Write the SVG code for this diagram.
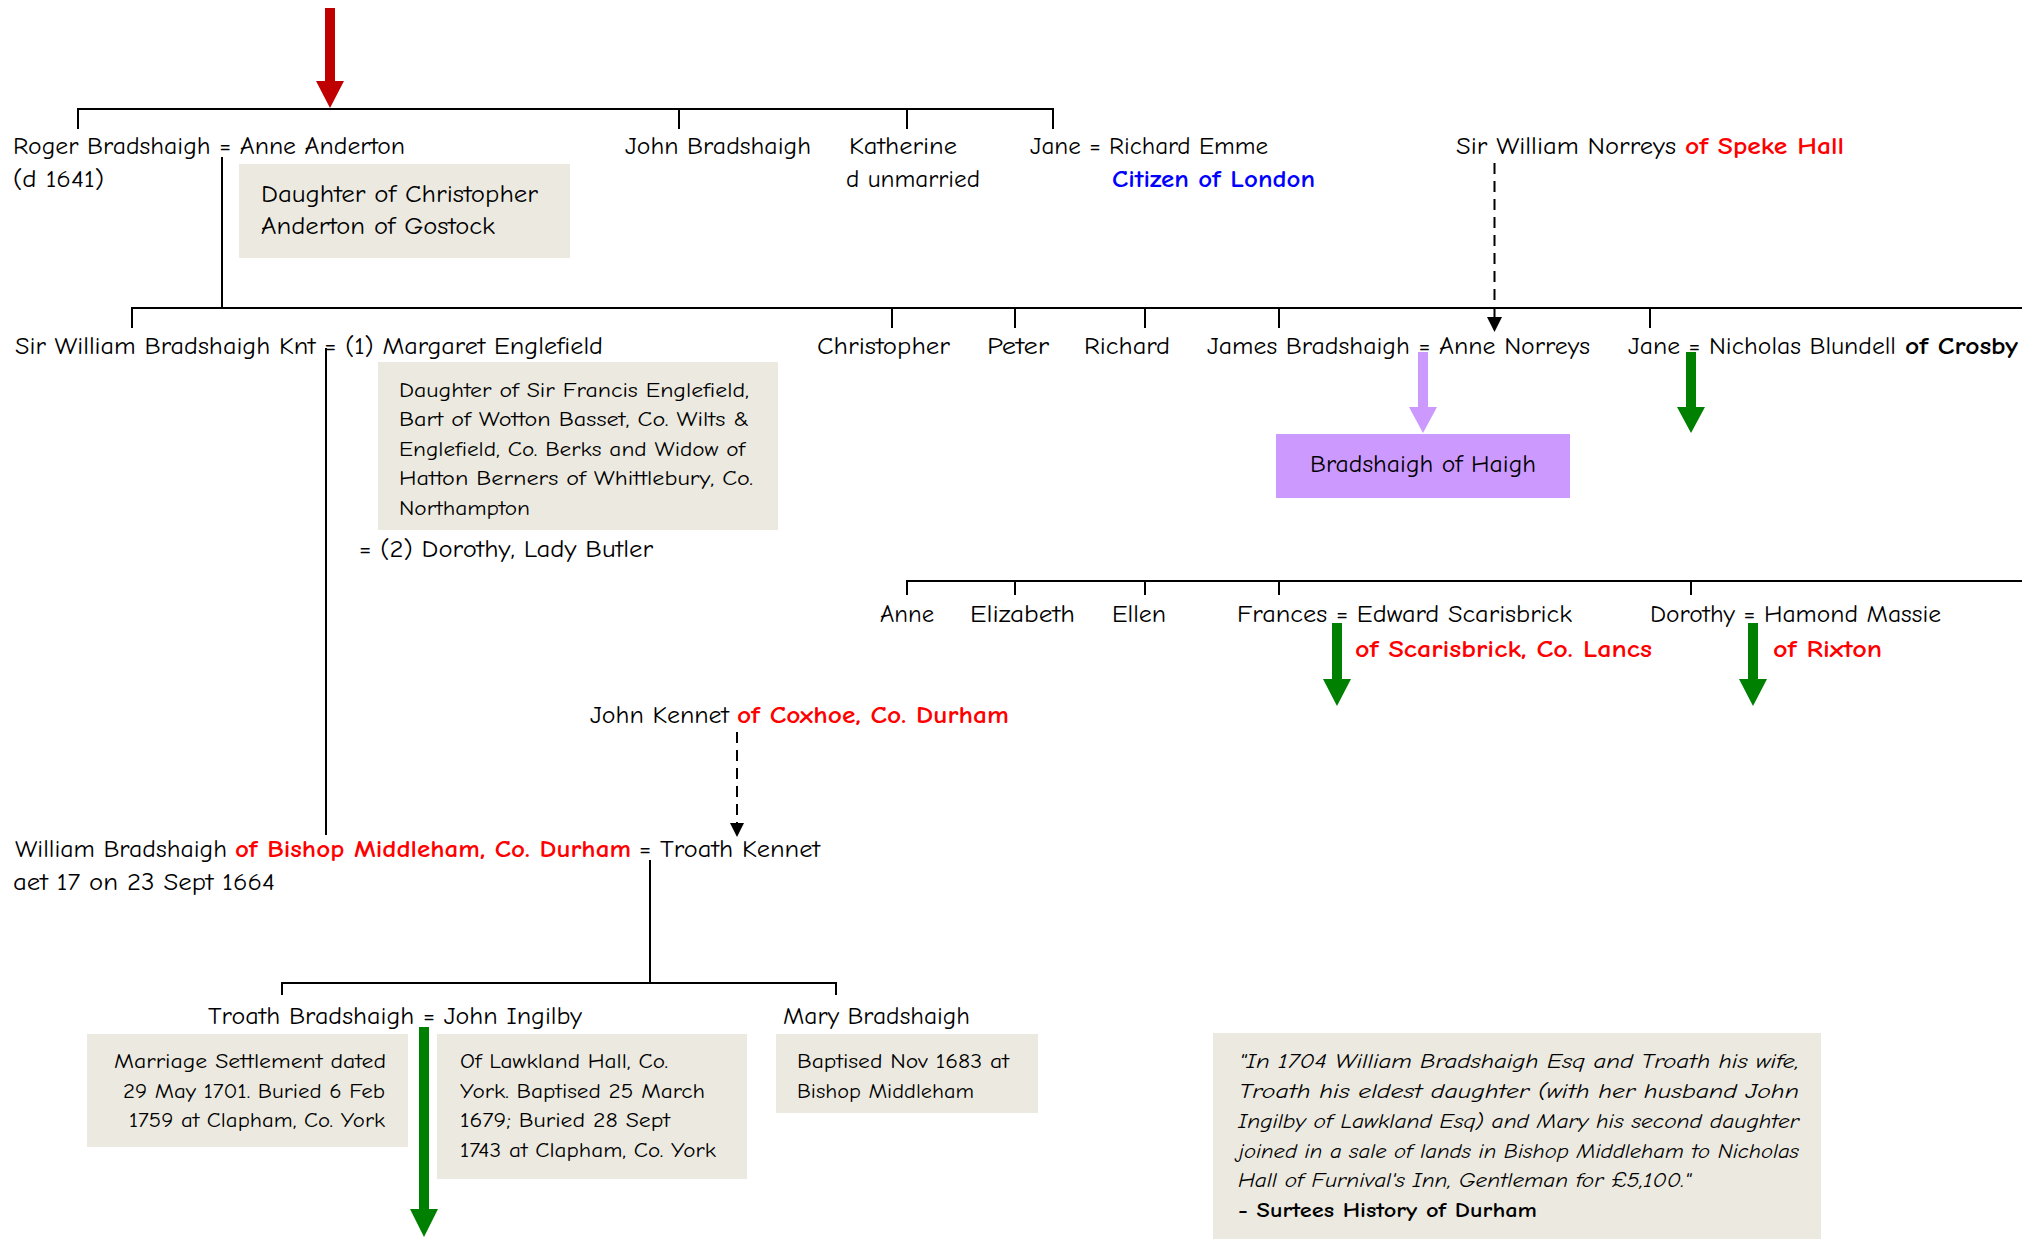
<svg xmlns="http://www.w3.org/2000/svg" width="2022" height="1242" viewBox="0 0 2022 1242">
<defs>
<style>
text{font-family:"Comic Sans MS","Comic Neue","Liberation Sans",sans-serif;font-size:24px;fill:#000}
.s{font-size:20px}
.m{font-size:21px}
.b{font-weight:bold}
.r{fill:#ff0000;font-weight:bold}
.bl{fill:#0000ff;font-weight:bold}
.i{font-style:italic}
.ln{stroke:#000;stroke-width:2;fill:none}
.dash{stroke:#000;stroke-width:2;fill:none;stroke-dasharray:11 7}
.note{fill:#eceae0}
.green{fill:#008000}
.purple{fill:#cc99ff}
</style>
</defs>
<rect width="2022" height="1242" fill="#fff"/>

<g id="connectors">
<!-- red incoming arrow -->
<path d="M325,8 H335 V81 H344 L330,108 L316,81 H325 Z" fill="#c00000"/>
<!-- row 1 sibling line -->
<path class="ln" d="M78,109 H1053 M78,108 V129 M679,109 V129 M907,109 V129 M1053,108 V129"/>
<!-- Roger descent -->
<path class="ln" d="M222,157 V308"/>
<!-- row 2 sibling line -->
<path class="ln" d="M132,308 H2022 M132,307 V328 M892,308 V328 M1015,308 V328 M1145,308 V328 M1279,308 V328 M1650,308 V328"/>
<!-- Norreys dashed -->
<path class="dash" d="M1494.5,163 V318"/>
<path d="M1487,317 H1502 L1494.5,332 Z" fill="#000"/>
<!-- purple arrow -->
<path class="purple" d="M1418,352 H1428 V407 H1437 L1423,433 L1409,407 H1418 Z"/>
<!-- green Jane -->
<path class="green" d="M1686,352 H1696 V407 H1705 L1691,433 L1677,407 H1686 Z"/>
<!-- Sir William descent -->
<path class="ln" d="M326,348 V835"/>
<!-- row 3 sibling line -->
<path class="ln" d="M907,581 H2022 M907,580 V595 M1015,581 V595 M1145,581 V595 M1279,581 V595 M1691,581 V595"/>
<!-- green Frances / Dorothy -->
<path class="green" d="M1332,623 H1342 V679 H1351 L1337,706 L1323,679 H1332 Z"/>
<path class="green" d="M1748,623 H1758 V679 H1767 L1753,706 L1739,679 H1748 Z"/>
<!-- Kennet dashed -->
<path class="dash" d="M737,732 V824"/>
<path d="M730,823 H744 L737,837 Z" fill="#000"/>
<!-- William descent -->
<path class="ln" d="M650,860 V983 M282,983 H836 M282,982 V995 M836,982 V995"/>
<!-- green Troath -->
<path class="green" d="M419,1027 H429 V1209 H438 L424,1237 L410,1209 H419 Z"/>
</g>

<g id="roger">
<text x="13" y="154" textLength="392" lengthAdjust="spacingAndGlyphs">Roger Bradshaigh = Anne Anderton</text>
<text x="13" y="187" textLength="91" lengthAdjust="spacingAndGlyphs">(d 1641)</text>
</g>
<g id="anne-note">
<rect class="note" x="239" y="164" width="331" height="94"/>
<text x="261" y="202" textLength="277" lengthAdjust="spacingAndGlyphs">Daughter of Christopher</text>
<text x="261" y="234" textLength="234" lengthAdjust="spacingAndGlyphs">Anderton of Gostock</text>
</g>
<g id="john">
<text x="625" y="154" textLength="186" lengthAdjust="spacingAndGlyphs">John Bradshaigh</text>
</g>
<g id="katherine">
<text x="849" y="154" textLength="108" lengthAdjust="spacingAndGlyphs">Katherine</text>
<text x="846" y="187" textLength="134" lengthAdjust="spacingAndGlyphs">d unmarried</text>
</g>
<g id="jane-emme">
<text x="1030" y="154" textLength="238" lengthAdjust="spacingAndGlyphs">Jane = Richard Emme</text>
<text class="bl" x="1112" y="187" textLength="203" lengthAdjust="spacingAndGlyphs">Citizen of London</text>
</g>
<g id="norreys">
<text x="1456" y="154" textLength="220" lengthAdjust="spacingAndGlyphs">Sir William Norreys</text>
<text class="r" x="1685" y="154" textLength="159" lengthAdjust="spacingAndGlyphs">of Speke Hall</text>
</g>

<g id="sir-william">
<text x="15" y="354" textLength="588" lengthAdjust="spacingAndGlyphs">Sir William Bradshaigh Knt = (1) Margaret Englefield</text>
<text x="359" y="557" textLength="294" lengthAdjust="spacingAndGlyphs">= (2) Dorothy, Lady Butler</text>
</g>
<g id="margaret-note">
<rect class="note" x="378" y="362" width="400" height="168"/>
<text class="s" x="399" y="397" textLength="350" lengthAdjust="spacingAndGlyphs">Daughter of Sir Francis Englefield,</text>
<text class="s" x="399" y="426" textLength="350" lengthAdjust="spacingAndGlyphs">Bart of Wotton Basset, Co. Wilts &amp;</text>
<text class="s" x="399" y="456" textLength="346" lengthAdjust="spacingAndGlyphs">Englefield, Co. Berks and Widow of</text>
<text class="s" x="399" y="485" textLength="354" lengthAdjust="spacingAndGlyphs">Hatton Berners of Whittlebury, Co.</text>
<text class="s" x="399" y="515" textLength="131" lengthAdjust="spacingAndGlyphs">Northampton</text>
</g>
<g id="christopher"><text x="817" y="354" textLength="133" lengthAdjust="spacingAndGlyphs">Christopher</text></g>
<g id="peter"><text x="987" y="354" textLength="62" lengthAdjust="spacingAndGlyphs">Peter</text></g>
<g id="richard"><text x="1084" y="354" textLength="86" lengthAdjust="spacingAndGlyphs">Richard</text></g>
<g id="james"><text x="1207" y="354" textLength="383" lengthAdjust="spacingAndGlyphs">James Bradshaigh = Anne Norreys</text></g>
<g id="jane-blundell">
<text x="1628" y="354" textLength="268" lengthAdjust="spacingAndGlyphs">Jane = Nicholas Blundell</text>
<text class="b" x="1905" y="354" textLength="113" lengthAdjust="spacingAndGlyphs">of Crosby</text>
</g>
<g id="haigh">
<rect class="purple" x="1276" y="434" width="294" height="64"/>
<text x="1423" y="472" text-anchor="middle" textLength="226" lengthAdjust="spacingAndGlyphs">Bradshaigh of Haigh</text>
</g>

<g id="anne"><text x="880" y="622" textLength="54" lengthAdjust="spacingAndGlyphs">Anne</text></g>
<g id="elizabeth"><text x="970" y="622" textLength="105" lengthAdjust="spacingAndGlyphs">Elizabeth</text></g>
<g id="ellen"><text x="1112" y="622" textLength="54" lengthAdjust="spacingAndGlyphs">Ellen</text></g>
<g id="frances">
<text x="1237" y="622" textLength="335" lengthAdjust="spacingAndGlyphs">Frances = Edward Scarisbrick</text>
<text class="r" x="1355" y="657" textLength="297" lengthAdjust="spacingAndGlyphs">of Scarisbrick, Co. Lancs</text>
</g>
<g id="dorothy">
<text x="1650" y="622" textLength="291" lengthAdjust="spacingAndGlyphs">Dorothy = Hamond Massie</text>
<text class="r" x="1773" y="657" textLength="109" lengthAdjust="spacingAndGlyphs">of Rixton</text>
</g>

<g id="kennet">
<text x="590" y="723" textLength="139" lengthAdjust="spacingAndGlyphs">John Kennet</text>
<text class="r" x="737" y="723" textLength="272" lengthAdjust="spacingAndGlyphs">of Coxhoe, Co. Durham</text>
</g>

<g id="william">
<text x="15" y="857" textLength="212" lengthAdjust="spacingAndGlyphs">William Bradshaigh</text>
<text class="r" x="235" y="857" textLength="396" lengthAdjust="spacingAndGlyphs">of Bishop Middleham, Co. Durham</text>
<text x="639" y="857" textLength="181" lengthAdjust="spacingAndGlyphs">= Troath Kennet</text>
<text x="13" y="890" textLength="262" lengthAdjust="spacingAndGlyphs">aet 17 on 23 Sept 1664</text>
</g>

<g id="troath">
<text x="208" y="1024" textLength="374" lengthAdjust="spacingAndGlyphs">Troath Bradshaigh = John Ingilby</text>
</g>
<g id="troath-note">
<rect class="note" x="87" y="1034" width="321" height="113"/>
<text class="m" x="386" y="1068" text-anchor="end" textLength="272" lengthAdjust="spacingAndGlyphs">Marriage Settlement dated</text>
<text class="m" x="385" y="1098" text-anchor="end" textLength="262" lengthAdjust="spacingAndGlyphs">29 May 1701. Buried 6 Feb</text>
<text class="m" x="385" y="1127" text-anchor="end" textLength="256" lengthAdjust="spacingAndGlyphs">1759 at Clapham, Co. York</text>
</g>
<g id="ingilby-note">
<rect class="note" x="437" y="1034" width="310" height="145"/>
<text class="m" x="460" y="1068" textLength="208" lengthAdjust="spacingAndGlyphs">Of Lawkland Hall, Co.</text>
<text class="m" x="460" y="1098" textLength="245" lengthAdjust="spacingAndGlyphs">York. Baptised 25 March</text>
<text class="m" x="460" y="1127" textLength="210" lengthAdjust="spacingAndGlyphs">1679; Buried 28 Sept</text>
<text class="m" x="460" y="1157" textLength="256" lengthAdjust="spacingAndGlyphs">1743 at Clapham, Co. York</text>
</g>
<g id="mary">
<text x="783" y="1024" textLength="187" lengthAdjust="spacingAndGlyphs">Mary Bradshaigh</text>
</g>
<g id="mary-note">
<rect class="note" x="776" y="1034" width="262" height="79"/>
<text class="s" x="797" y="1068" textLength="212" lengthAdjust="spacingAndGlyphs">Baptised Nov 1683 at</text>
<text class="s" x="797" y="1098" textLength="177" lengthAdjust="spacingAndGlyphs">Bishop Middleham</text>
</g>

<g id="quote">
<rect class="note" x="1213" y="1033" width="608" height="206"/>
<text class="s i" x="1239" y="1068" textLength="560" lengthAdjust="spacingAndGlyphs">"In 1704 William Bradshaigh Esq and Troath his wife,</text>
<text class="s i" x="1239" y="1098" textLength="560" lengthAdjust="spacingAndGlyphs">Troath his eldest daughter (with her husband John</text>
<text class="s i" x="1238" y="1128" textLength="561" lengthAdjust="spacingAndGlyphs">Ingilby of Lawkland Esq) and Mary his second daughter</text>
<text class="s i" x="1238" y="1158" textLength="561" lengthAdjust="spacingAndGlyphs">joined in a sale of lands in Bishop Middleham to Nicholas</text>
<text class="s i" x="1238" y="1187" textLength="453" lengthAdjust="spacingAndGlyphs">Hall of Furnival's Inn, Gentleman for £5,100."</text>
<text class="s b" x="1238" y="1217" textLength="299" lengthAdjust="spacingAndGlyphs">- Surtees History of Durham</text>
</g>
</svg>
